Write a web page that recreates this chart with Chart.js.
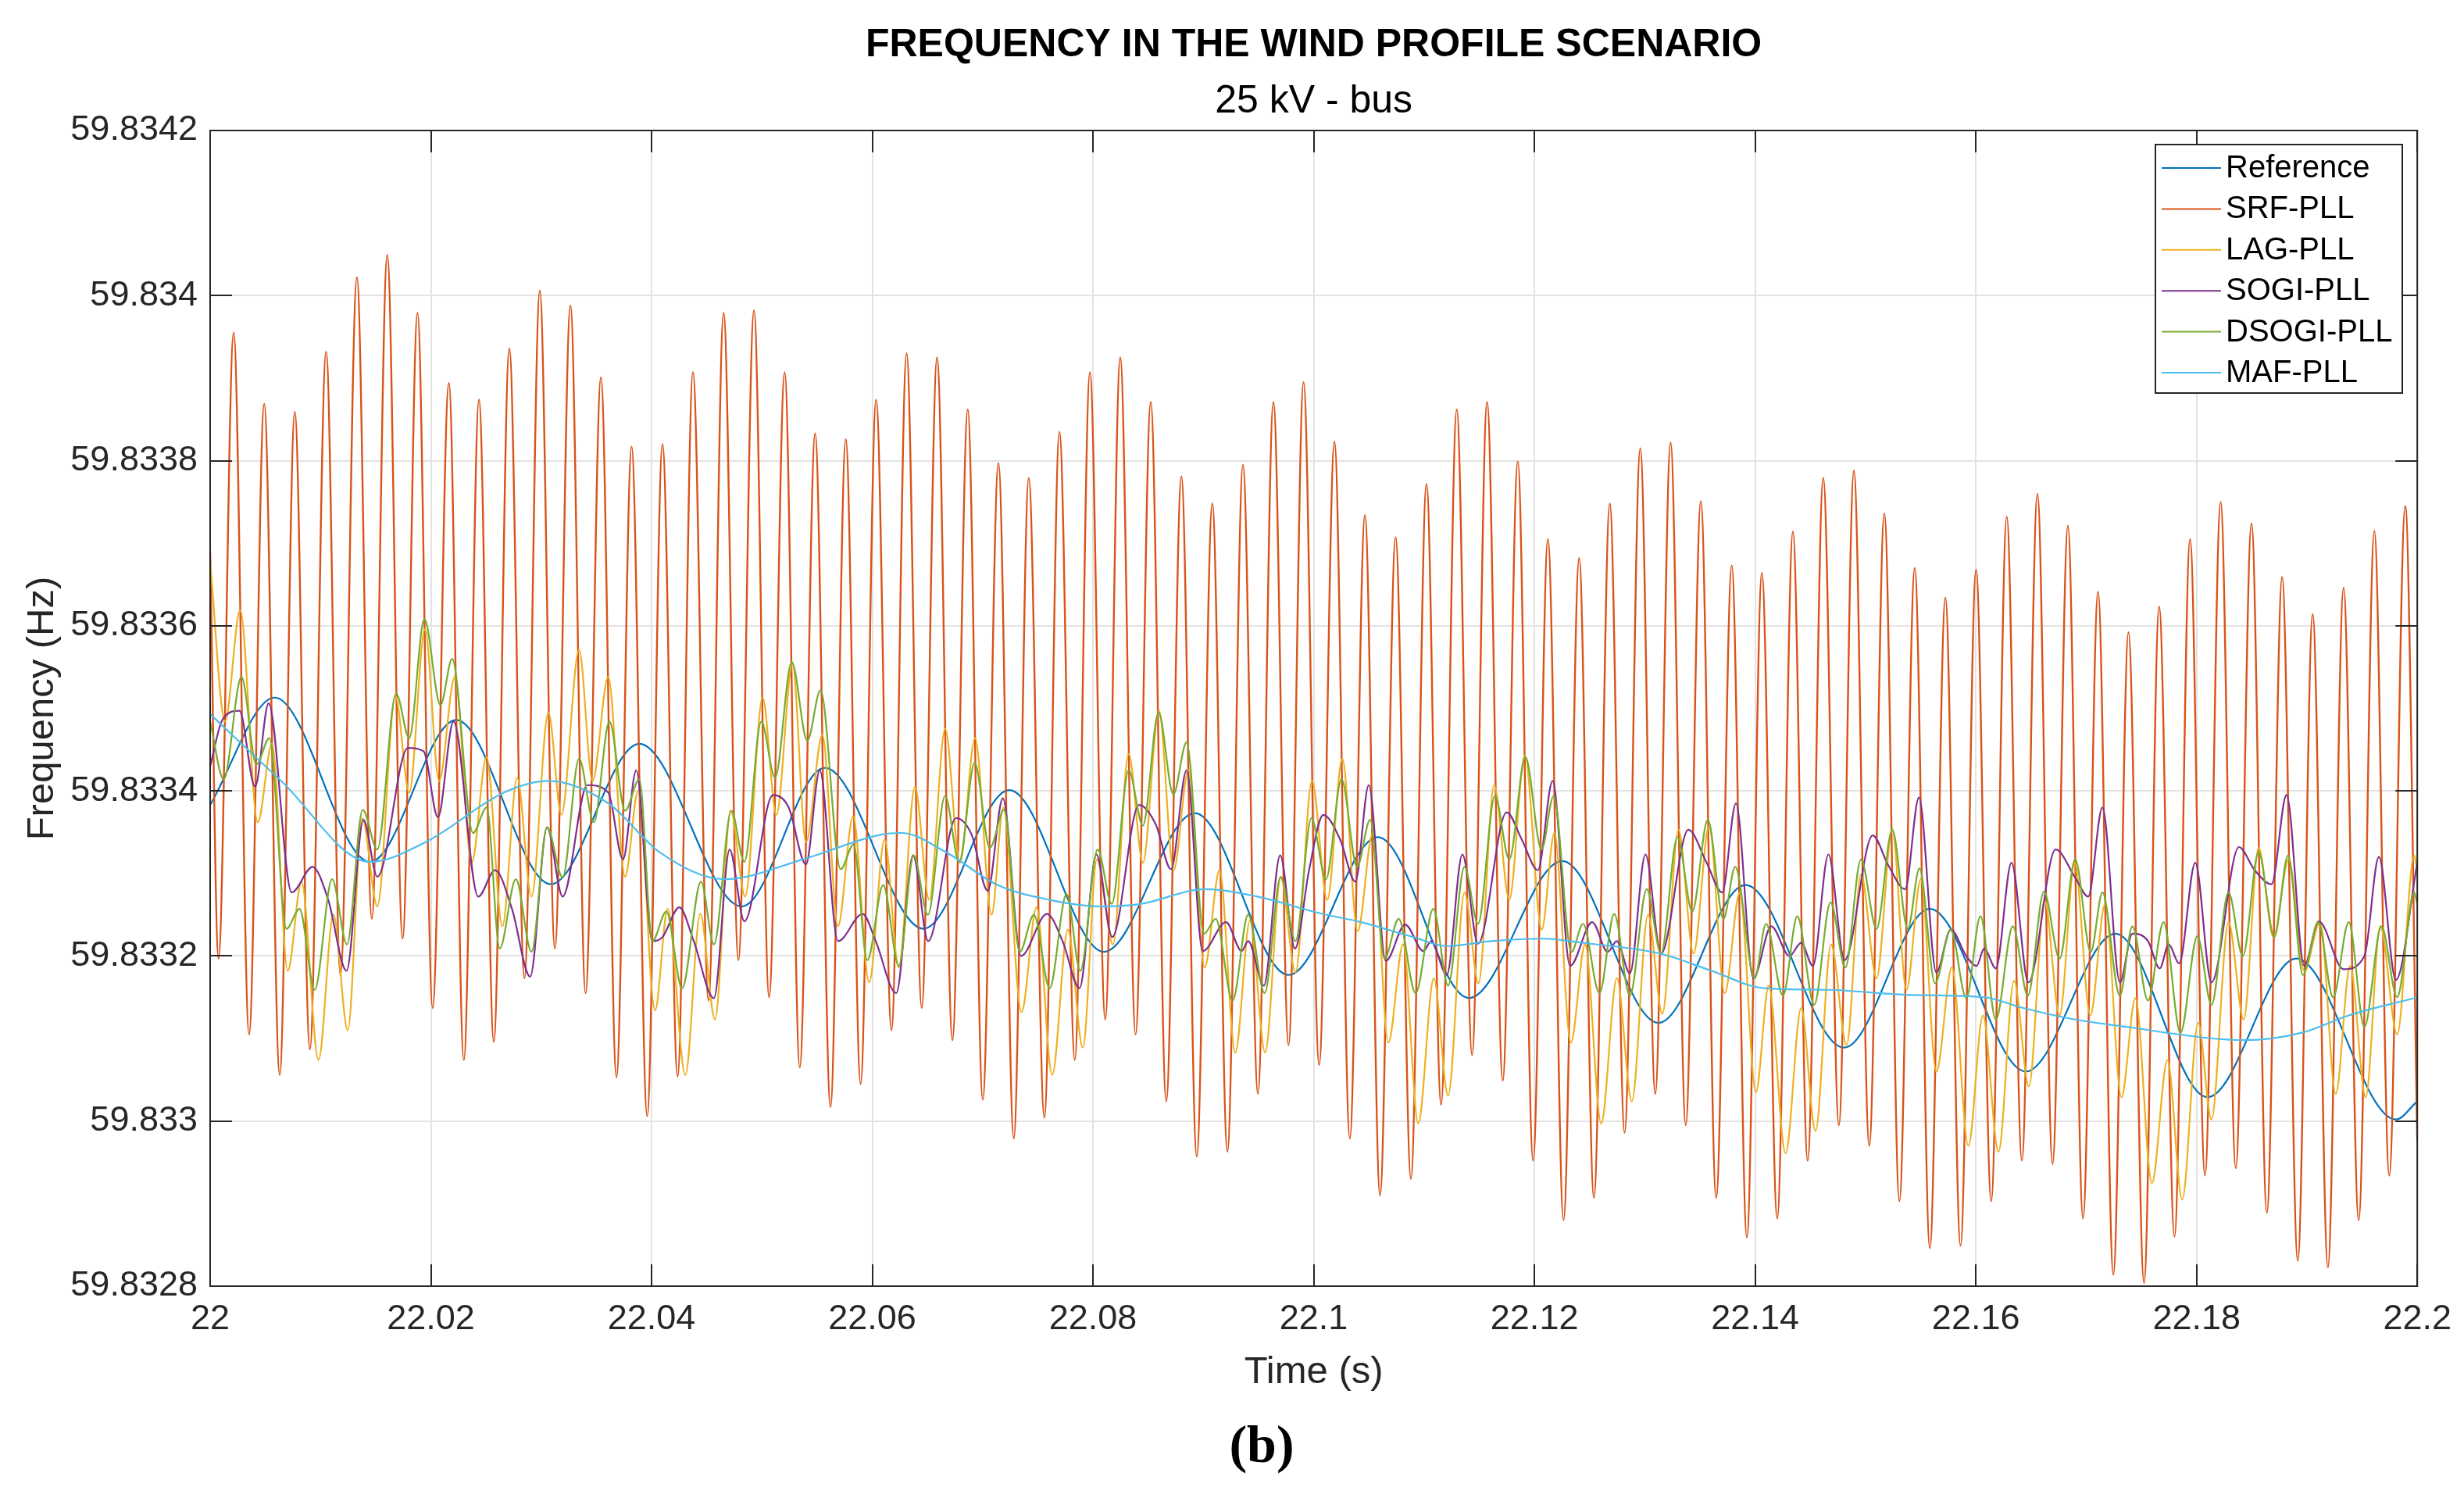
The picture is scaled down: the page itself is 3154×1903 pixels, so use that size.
<!DOCTYPE html>
<html><head><meta charset="utf-8">
<script src="https://cdn.jsdelivr.net/npm/chart.js@4.4.1/dist/chart.umd.min.js"></script>
<style>html,body{margin:0;padding:0;background:#fff;}#wrap{width:3154px;height:1903px;}</style>
</head><body><div id="wrap"><canvas id="c" width="3154" height="1903"></canvas></div>
<script>
const titleText = 'FREQUENCY IN THE WIND PROFILE SCENARIO';
const subtitleText = '25 kV - bus';
const xTitle = 'Time (s)';
const yTitle = 'Frequency (Hz)';
const panelLabel = '(b)';
const seriesNames = ['Reference','SRF-PLL','LAG-PLL','SOGI-PLL','DSOGI-PLL','MAF-PLL'];
const seriesColors = ['#0072BD','#D95319','#EDB120','#7E2F8E','#77AC30','#4DBEEE'];
const xTicks = [22,22.02,22.04,22.06,22.08,22.1,22.12,22.14,22.16,22.18,22.2];
const xTickLabels = ['22','22.02','22.04','22.06','22.08','22.1','22.12','22.14','22.16','22.18','22.2'];
const yTicks = [59.8328,59.833,59.8332,59.8334,59.8336,59.8338,59.834,59.8342];
const yTickLabels = ['59.8328','59.833','59.8332','59.8334','59.8336','59.8338','59.834','59.8342'];

const refTime = [22.00000,22.00585,22.01449,22.02229,22.03088,22.03889,22.04817,22.05571,22.06464,22.07241,22.08099,22.08923,22.09772,22.10582,22.11406,22.12252,22.13124,22.13913,22.14806,22.15583,22.16452,22.17265,22.18100,22.18905,22.19806,22.20000];
const refFreq = [59.833383,59.833513,59.833314,59.833486,59.833287,59.833457,59.833260,59.833428,59.833233,59.833401,59.833205,59.833373,59.833177,59.833344,59.833149,59.833315,59.833119,59.833286,59.833089,59.833257,59.833060,59.833227,59.833029,59.833197,59.833002,59.833024];

const srfTime = [22.00000,22.00076,22.00213,22.00353,22.00490,22.00630,22.00767,22.00904,22.01051,22.01181,22.01330,22.01465,22.01605,22.01744,22.01879,22.02016,22.02163,22.02299,22.02436,22.02570,22.02711,22.02848,22.02987,22.03124,22.03265,22.03402,22.03541,22.03682,22.03819,22.03960,22.04099,22.04236,22.04375,22.04516,22.04653,22.04787,22.04928,22.05065,22.05206,22.05343,22.05482,22.05621,22.05760,22.05894,22.06035,22.06174,22.06311,22.06448,22.06587,22.06726,22.06865,22.07001,22.07143,22.07282,22.07418,22.07559,22.07696,22.07835,22.07972,22.08111,22.08247,22.08386,22.08523,22.08664,22.08801,22.08940,22.09081,22.09218,22.09359,22.09494,22.09635,22.09772,22.09908,22.10049,22.10188,22.10327,22.10464,22.10601,22.10742,22.10881,22.11022,22.11154,22.11296,22.11435,22.11571,22.11713,22.11849,22.11988,22.12122,22.12264,22.12405,22.12539,22.12683,22.12817,22.12959,22.13095,22.13234,22.13371,22.13508,22.13647,22.13788,22.13925,22.14061,22.14200,22.14342,22.14476,22.14617,22.14759,22.14895,22.15034,22.15171,22.15307,22.15446,22.15583,22.15724,22.15861,22.16002,22.16139,22.16280,22.16417,22.16558,22.16695,22.16834,22.16971,22.17107,22.17246,22.17383,22.17524,22.17661,22.17800,22.17941,22.18076,22.18218,22.18355,22.18498,22.18637,22.18775,22.18917,22.19052,22.19190,22.19332,22.19469,22.19611,22.19746,22.19891,22.20000];
const srfFreq = [59.833691,59.833197,59.833955,59.833105,59.833869,59.833056,59.833859,59.833087,59.833932,59.833177,59.834022,59.833245,59.834049,59.833221,59.833979,59.833137,59.833894,59.833074,59.833874,59.833096,59.833936,59.833173,59.834006,59.833209,59.833988,59.833155,59.833901,59.833053,59.833817,59.833006,59.833820,59.833054,59.833907,59.833146,59.833979,59.833195,59.833982,59.833150,59.833907,59.833065,59.833833,59.833017,59.833826,59.833045,59.833874,59.833110,59.833930,59.833137,59.833925,59.833098,59.833862,59.833026,59.833797,59.832979,59.833779,59.833004,59.833835,59.833074,59.833907,59.833123,59.833925,59.833105,59.833871,59.833024,59.833781,59.832957,59.833748,59.832963,59.833795,59.833033,59.833871,59.833092,59.833895,59.833068,59.833823,59.832979,59.833734,59.832910,59.833707,59.832930,59.833772,59.833020,59.833862,59.833080,59.833871,59.833049,59.833799,59.832952,59.833705,59.832880,59.833682,59.832907,59.833748,59.832986,59.833815,59.833033,59.833822,59.832995,59.833751,59.832907,59.833673,59.832859,59.833664,59.832882,59.833714,59.832952,59.833779,59.832995,59.833788,59.832970,59.833736,59.832903,59.833670,59.832846,59.833634,59.832849,59.833668,59.832903,59.833732,59.832952,59.833760,59.832948,59.833721,59.832882,59.833641,59.832814,59.833592,59.832804,59.833623,59.832860,59.833705,59.832934,59.833750,59.832943,59.833724,59.832889,59.833659,59.832831,59.833614,59.832823,59.833646,59.832880,59.833715,59.832934,59.833745,59.832975];

const lagTime = [22.00000,22.00135,22.00272,22.00431,22.00561,22.00703,22.00828,22.00982,22.01117,22.01247,22.01378,22.01515,22.01678,22.01804,22.01946,22.02075,22.02217,22.02370,22.02504,22.02648,22.02782,22.02912,22.03065,22.03183,22.03343,22.03465,22.03607,22.03760,22.03878,22.04031,22.04146,22.04306,22.04441,22.04575,22.04716,22.04848,22.05006,22.05131,22.05277,22.05399,22.05548,22.05689,22.05826,22.05972,22.06111,22.06240,22.06386,22.06516,22.06660,22.06794,22.06931,22.07081,22.07187,22.07352,22.07489,22.07630,22.07772,22.07908,22.08035,22.08181,22.08323,22.08452,22.08598,22.08730,22.08865,22.09011,22.09147,22.09289,22.09423,22.09560,22.09701,22.09835,22.09984,22.10123,22.10259,22.10398,22.10535,22.10676,22.10810,22.10947,22.11088,22.11218,22.11366,22.11494,22.11635,22.11772,22.11913,22.12066,22.12181,22.12330,22.12459,22.12605,22.12747,22.12883,22.13029,22.13159,22.13305,22.13442,22.13583,22.13724,22.13861,22.14007,22.14123,22.14276,22.14417,22.14547,22.14688,22.14829,22.14959,22.15100,22.15242,22.15371,22.15501,22.15642,22.15783,22.15932,22.16064,22.16205,22.16346,22.16481,22.16622,22.16759,22.16895,22.17037,22.17171,22.17319,22.17446,22.17595,22.17736,22.17870,22.18014,22.18135,22.18289,22.18427,22.18562,22.18697,22.18834,22.18976,22.19119,22.19261,22.19391,22.19533,22.19664,22.19818,22.19972,22.20000];
const lagFreq = [59.833678,59.833484,59.833619,59.833362,59.833457,59.833182,59.833290,59.833074,59.833250,59.833110,59.833367,59.833260,59.833515,59.833398,59.833596,59.833412,59.833538,59.833313,59.833441,59.833236,59.833416,59.833272,59.833495,59.833371,59.833571,59.833412,59.833538,59.833296,59.833400,59.833134,59.833257,59.833056,59.833251,59.833123,59.833376,59.833272,59.833513,59.833371,59.833554,59.833338,59.833468,59.833236,59.833369,59.833168,59.833341,59.833186,59.833405,59.833268,59.833475,59.833313,59.833464,59.833250,59.833380,59.833132,59.833259,59.833056,59.833232,59.833089,59.833317,59.833214,59.833445,59.833313,59.833497,59.833304,59.833425,59.833186,59.833304,59.833083,59.833243,59.833083,59.833295,59.833180,59.833412,59.833268,59.833439,59.833230,59.833349,59.833095,59.833214,59.832997,59.833173,59.833031,59.833277,59.833167,59.833407,59.833268,59.833443,59.833232,59.833349,59.833095,59.833214,59.832997,59.833173,59.833024,59.833250,59.833130,59.833353,59.833203,59.833358,59.833155,59.833277,59.833035,59.833164,59.832961,59.833137,59.832988,59.833214,59.833092,59.833299,59.833173,59.833353,59.833159,59.833293,59.833060,59.833186,59.832970,59.833128,59.832963,59.833170,59.833042,59.833268,59.833128,59.833313,59.833128,59.833263,59.833029,59.833149,59.832925,59.833074,59.832905,59.833119,59.833002,59.833241,59.833123,59.833331,59.833223,59.833317,59.833182,59.833241,59.833033,59.833188,59.833029,59.833236,59.833105,59.833322,59.833304];

const sogiTime = [22.00000,22.00111,22.00265,22.00407,22.00530,22.00739,22.00928,22.01070,22.01236,22.01389,22.01515,22.01792,22.01934,22.02064,22.02205,22.02429,22.02582,22.02735,22.02900,22.03053,22.03194,22.03418,22.03607,22.03741,22.03861,22.04007,22.04099,22.04252,22.04382,22.04565,22.04707,22.04841,22.05100,22.05242,22.05399,22.05524,22.05689,22.05913,22.06031,22.06217,22.06370,22.06506,22.06759,22.06900,22.07046,22.07183,22.07347,22.07583,22.07724,22.07878,22.08031,22.08174,22.08417,22.08570,22.08707,22.08848,22.08994,22.09206,22.09347,22.09406,22.09548,22.09696,22.09830,22.09958,22.10087,22.10240,22.10377,22.10499,22.10653,22.10829,22.10994,22.11065,22.11206,22.11347,22.11489,22.11748,22.11889,22.12031,22.12165,22.12323,22.12523,22.12664,22.12747,22.12865,22.13006,22.13147,22.13395,22.13560,22.13701,22.13826,22.13984,22.14146,22.14311,22.14417,22.14523,22.14664,22.14810,22.15065,22.15206,22.15359,22.15484,22.15642,22.15772,22.15913,22.16007,22.16075,22.16181,22.16323,22.16476,22.16723,22.16900,22.17018,22.17147,22.17305,22.17418,22.17560,22.17666,22.17748,22.17842,22.17988,22.18135,22.18384,22.18526,22.18680,22.18815,22.18976,22.19107,22.19332,22.19521,22.19652,22.19806,22.20000];
const sogiFreq = [59.833430,59.833486,59.833497,59.833405,59.833506,59.833277,59.833308,59.833268,59.833182,59.833365,59.833296,59.833452,59.833448,59.833368,59.833484,59.833272,59.833304,59.833257,59.833175,59.833356,59.833272,59.833407,59.833398,59.833317,59.833425,59.833218,59.833223,59.833259,59.833218,59.833149,59.833329,59.833242,59.833395,59.833380,59.833311,59.833425,59.833218,59.833251,59.833218,59.833155,59.833322,59.833218,59.833367,59.833347,59.833279,59.833391,59.833200,59.833251,59.833218,59.833161,59.833323,59.833223,59.833383,59.833359,59.833305,59.833425,59.833206,59.833241,59.833206,59.833218,59.833164,59.833322,59.833209,59.833304,59.833371,59.833341,59.833290,59.833407,59.833194,59.833238,59.833206,59.833218,59.833177,59.833323,59.833215,59.833374,59.833340,59.833304,59.833412,59.833188,59.833241,59.833205,59.833218,59.833179,59.833323,59.833203,59.833353,59.833313,59.833277,59.833385,59.833173,59.833236,59.833200,59.833216,59.833188,59.833323,59.833195,59.833346,59.833310,59.833281,59.833392,59.833180,59.833232,59.833200,59.833188,59.833209,59.833185,59.833313,59.833168,59.833329,59.833295,59.833272,59.833380,59.833168,59.833227,59.833218,59.833185,59.833214,59.833191,59.833313,59.833168,59.833332,59.833304,59.833287,59.833395,59.833188,59.833242,59.833184,59.833200,59.833320,59.833171,59.833313];

const dsogiTime = [22.00000,22.00123,22.00284,22.00419,22.00537,22.00691,22.00810,22.00947,22.01105,22.01240,22.01382,22.01515,22.01685,22.01804,22.01941,22.02087,22.02193,22.02382,22.02506,22.02624,22.02770,22.02912,22.03053,22.03194,22.03343,22.03477,22.03618,22.03760,22.03889,22.04007,22.04134,22.04276,22.04448,22.04565,22.04723,22.04841,22.04994,22.05119,22.05270,22.05411,22.05531,22.05713,22.05830,22.05955,22.06099,22.06240,22.06375,22.06504,22.06660,22.06787,22.06928,22.07065,22.07194,22.07336,22.07465,22.07607,22.07760,22.07885,22.08042,22.08170,22.08323,22.08452,22.08594,22.08728,22.08848,22.09006,22.09112,22.09265,22.09406,22.09555,22.09701,22.09835,22.09979,22.10111,22.10252,22.10393,22.10511,22.10641,22.10770,22.10923,22.11084,22.11218,22.11366,22.11489,22.11642,22.11772,22.11918,22.12064,22.12174,22.12335,22.12441,22.12589,22.12723,22.12865,22.13018,22.13147,22.13296,22.13430,22.13571,22.13713,22.13819,22.13995,22.14099,22.14252,22.14382,22.14535,22.14683,22.14817,22.14959,22.15100,22.15242,22.15383,22.15489,22.15630,22.15772,22.15913,22.16042,22.16181,22.16335,22.16471,22.16617,22.16759,22.16900,22.17041,22.17147,22.17305,22.17418,22.17560,22.17701,22.17854,22.18007,22.18135,22.18289,22.18419,22.18562,22.18704,22.18829,22.18964,22.19102,22.19237,22.19379,22.19521,22.19675,22.19818,22.19972,22.20000];
const dsogiFreq = [59.833484,59.833414,59.833538,59.833432,59.833464,59.833233,59.833257,59.833159,59.833293,59.833214,59.833377,59.833329,59.833518,59.833464,59.833608,59.833504,59.833560,59.833349,59.833380,59.833209,59.833293,59.833205,59.833356,59.833295,59.833439,59.833362,59.833484,59.833376,59.833414,59.833218,59.833254,59.833161,59.833290,59.833214,59.833376,59.833314,59.833484,59.833416,59.833556,59.833461,59.833522,59.833305,59.833335,59.833195,59.833286,59.833188,59.833322,59.833250,59.833394,59.833314,59.833434,59.833331,59.833377,59.833205,59.833250,59.833161,59.833275,59.833182,59.833329,59.833263,59.833425,59.833358,59.833495,59.833396,59.833459,59.833227,59.833245,59.833146,59.833250,59.833155,59.833296,59.833218,59.833367,59.833293,59.833414,59.833308,59.833365,59.833197,59.833245,59.833155,59.833257,59.833164,59.833308,59.833239,59.833394,59.833317,59.833441,59.833329,59.833394,59.833205,59.833239,59.833155,59.833251,59.833152,59.833281,59.833203,59.833344,59.833254,59.833365,59.833245,59.833308,59.833173,59.833239,59.833152,59.833248,59.833141,59.833265,59.833186,59.833317,59.833233,59.833353,59.833233,59.833306,59.833167,59.833232,59.833149,59.833248,59.833123,59.833236,59.833152,59.833278,59.833197,59.833317,59.833205,59.833277,59.833152,59.833236,59.833146,59.833241,59.833107,59.833224,59.833141,59.833277,59.833200,59.833326,59.833223,59.833322,59.833177,59.833241,59.833150,59.833241,59.833114,59.833236,59.833150,59.833277,59.833263];

const mafTime = [22.00000,22.00644,22.01449,22.01953,22.02664,22.03065,22.03607,22.04080,22.04664,22.05371,22.06078,22.06264,22.06664,22.07135,22.07607,22.08078,22.08429,22.09018,22.09489,22.10078,22.10429,22.10900,22.11206,22.11607,22.12078,22.12429,22.13135,22.13607,22.14078,22.14664,22.15371,22.16078,22.16429,22.16900,22.17371,22.18078,22.18431,22.18953,22.19379,22.20000];
const mafFreq = [59.833493,59.833412,59.833314,59.833338,59.833398,59.833412,59.833385,59.833325,59.833293,59.833317,59.833347,59.833349,59.833326,59.833286,59.833268,59.833260,59.833263,59.833281,59.833272,59.833251,59.833241,59.833223,59.833212,59.833218,59.833221,59.833216,59.833203,59.833182,59.833161,59.833159,59.833153,59.833150,59.833137,59.833123,59.833114,59.833101,59.833098,59.833107,59.833128,59.833150];

const seriesTimes = [refTime, srfTime, lagTime, sogiTime, dsogiTime, mafTime];
const seriesFreqs = [refFreq, srfFreq, lagFreq, sogiFreq, dsogiFreq, mafFreq];

const FONT = '"Liberation Sans", Arial, Helvetica, sans-serif';
const AX = '#262626';

const datasets = seriesNames.map((name, k) => ({
  label: name,
  data: seriesTimes[k].map((t, i) => ({x: t, y: seriesFreqs[k][i]})),
  borderColor: seriesColors[k],
  backgroundColor: seriesColors[k],
  borderWidth: k === 1 ? 2.4 : 2.2,
  pointRadius: 0,
  fill: false,
  cubicInterpolationMode: 'monotone',
  order: seriesNames.length - k
}));

const decor = {
  id: 'decor',
  afterDraw(chart) {
    const ctx = chart.ctx;
    const a = chart.chartArea;
    const xs = chart.scales.x, ys = chart.scales.y;
    ctx.save();
    ctx.strokeStyle = AX; ctx.lineWidth = 2;
    ctx.strokeRect(a.left, a.top, a.right - a.left, a.bottom - a.top);
    const TL = 28;
    ctx.beginPath();
    xTicks.forEach(v => {
      const px = Math.round(xs.getPixelForValue(v));
      ctx.moveTo(px, a.bottom); ctx.lineTo(px, a.bottom - TL);
      ctx.moveTo(px, a.top); ctx.lineTo(px, a.top + TL);
    });
    yTicks.forEach(v => {
      const py = Math.round(ys.getPixelForValue(v));
      ctx.moveTo(a.left, py); ctx.lineTo(a.left + TL, py);
      ctx.moveTo(a.right, py); ctx.lineTo(a.right - TL, py);
    });
    ctx.stroke();
    const cx = (a.left + a.right) / 2;
    ctx.fillStyle = '#000';
    ctx.textAlign = 'center'; ctx.textBaseline = 'middle';
    ctx.font = 'bold 50px ' + FONT;
    ctx.fillText(titleText, cx, 58);
    ctx.font = '50px ' + FONT;
    ctx.fillText(subtitleText, cx, 130);
    ctx.fillStyle = AX;
    ctx.font = '49px ' + FONT;
    ctx.fillText(xTitle, cx, 1756);
    ctx.save();
    ctx.translate(54, (a.top + a.bottom) / 2);
    ctx.rotate(-Math.PI / 2);
    ctx.fillText(yTitle, 0, 0);
    ctx.restore();
    ctx.fillStyle = '#000';
    ctx.font = 'bold 68px "Liberation Serif", "Times New Roman", serif';
    ctx.fillText(panelLabel, 1615, 1853);
    const L = 2759, T = 185, R = 3075, B = 503;
    ctx.fillStyle = '#fff';
    ctx.fillRect(L, T, R - L, B - T);
    ctx.strokeStyle = AX; ctx.lineWidth = 2;
    ctx.strokeRect(L, T, R - L, B - T);
    ctx.font = '40px ' + FONT;
    ctx.textAlign = 'left'; ctx.textBaseline = 'middle';
    seriesNames.forEach((name, k) => {
      const y = 215 + k * 52.4;
      ctx.strokeStyle = seriesColors[k]; ctx.lineWidth = 2;
      ctx.beginPath(); ctx.moveTo(2767, y); ctx.lineTo(2843, y); ctx.stroke();
      ctx.fillStyle = '#000';
      ctx.fillText(name, 2849, y + 1);
    });
    ctx.restore();
  }
};

new Chart(document.getElementById('c'), {
  type: 'line',
  data: { datasets },
  options: {
    responsive: false,
    animation: false,
    devicePixelRatio: 1,
    layout: { padding: { left: 0, top: 167, right: 57, bottom: 0 } },
    plugins: { legend: { display: false }, tooltip: { enabled: false }, title: { display: false } },
    scales: {
      x: {
        type: 'linear', min: 22, max: 22.2,
        afterBuildTicks: s => { s.ticks = xTicks.map(v => ({ value: v })); },
        afterFit: s => { s.height = 257; },
        ticks: { autoSkip: false, maxRotation: 0, minRotation: 0, padding: 16, color: AX,
                 font: { family: FONT, size: 45 }, callback: (v, i) => xTickLabels[i] },
        grid: { color: '#e3e3e3', lineWidth: 2, drawTicks: false },
        border: { display: false }
      },
      y: {
        type: 'linear', min: 59.8328, max: 59.8342,
        afterBuildTicks: s => { s.ticks = yTicks.map(v => ({ value: v })); },
        afterFit: s => { s.width = 269; },
        ticks: { autoSkip: false, padding: 16, color: AX,
                 font: { family: FONT, size: 45 }, callback: (v, i) => yTickLabels[i] },
        grid: { color: '#e3e3e3', lineWidth: 2, drawTicks: false },
        border: { display: false }
      }
    }
  },
  plugins: [decor]
});
</script>
</body></html>
